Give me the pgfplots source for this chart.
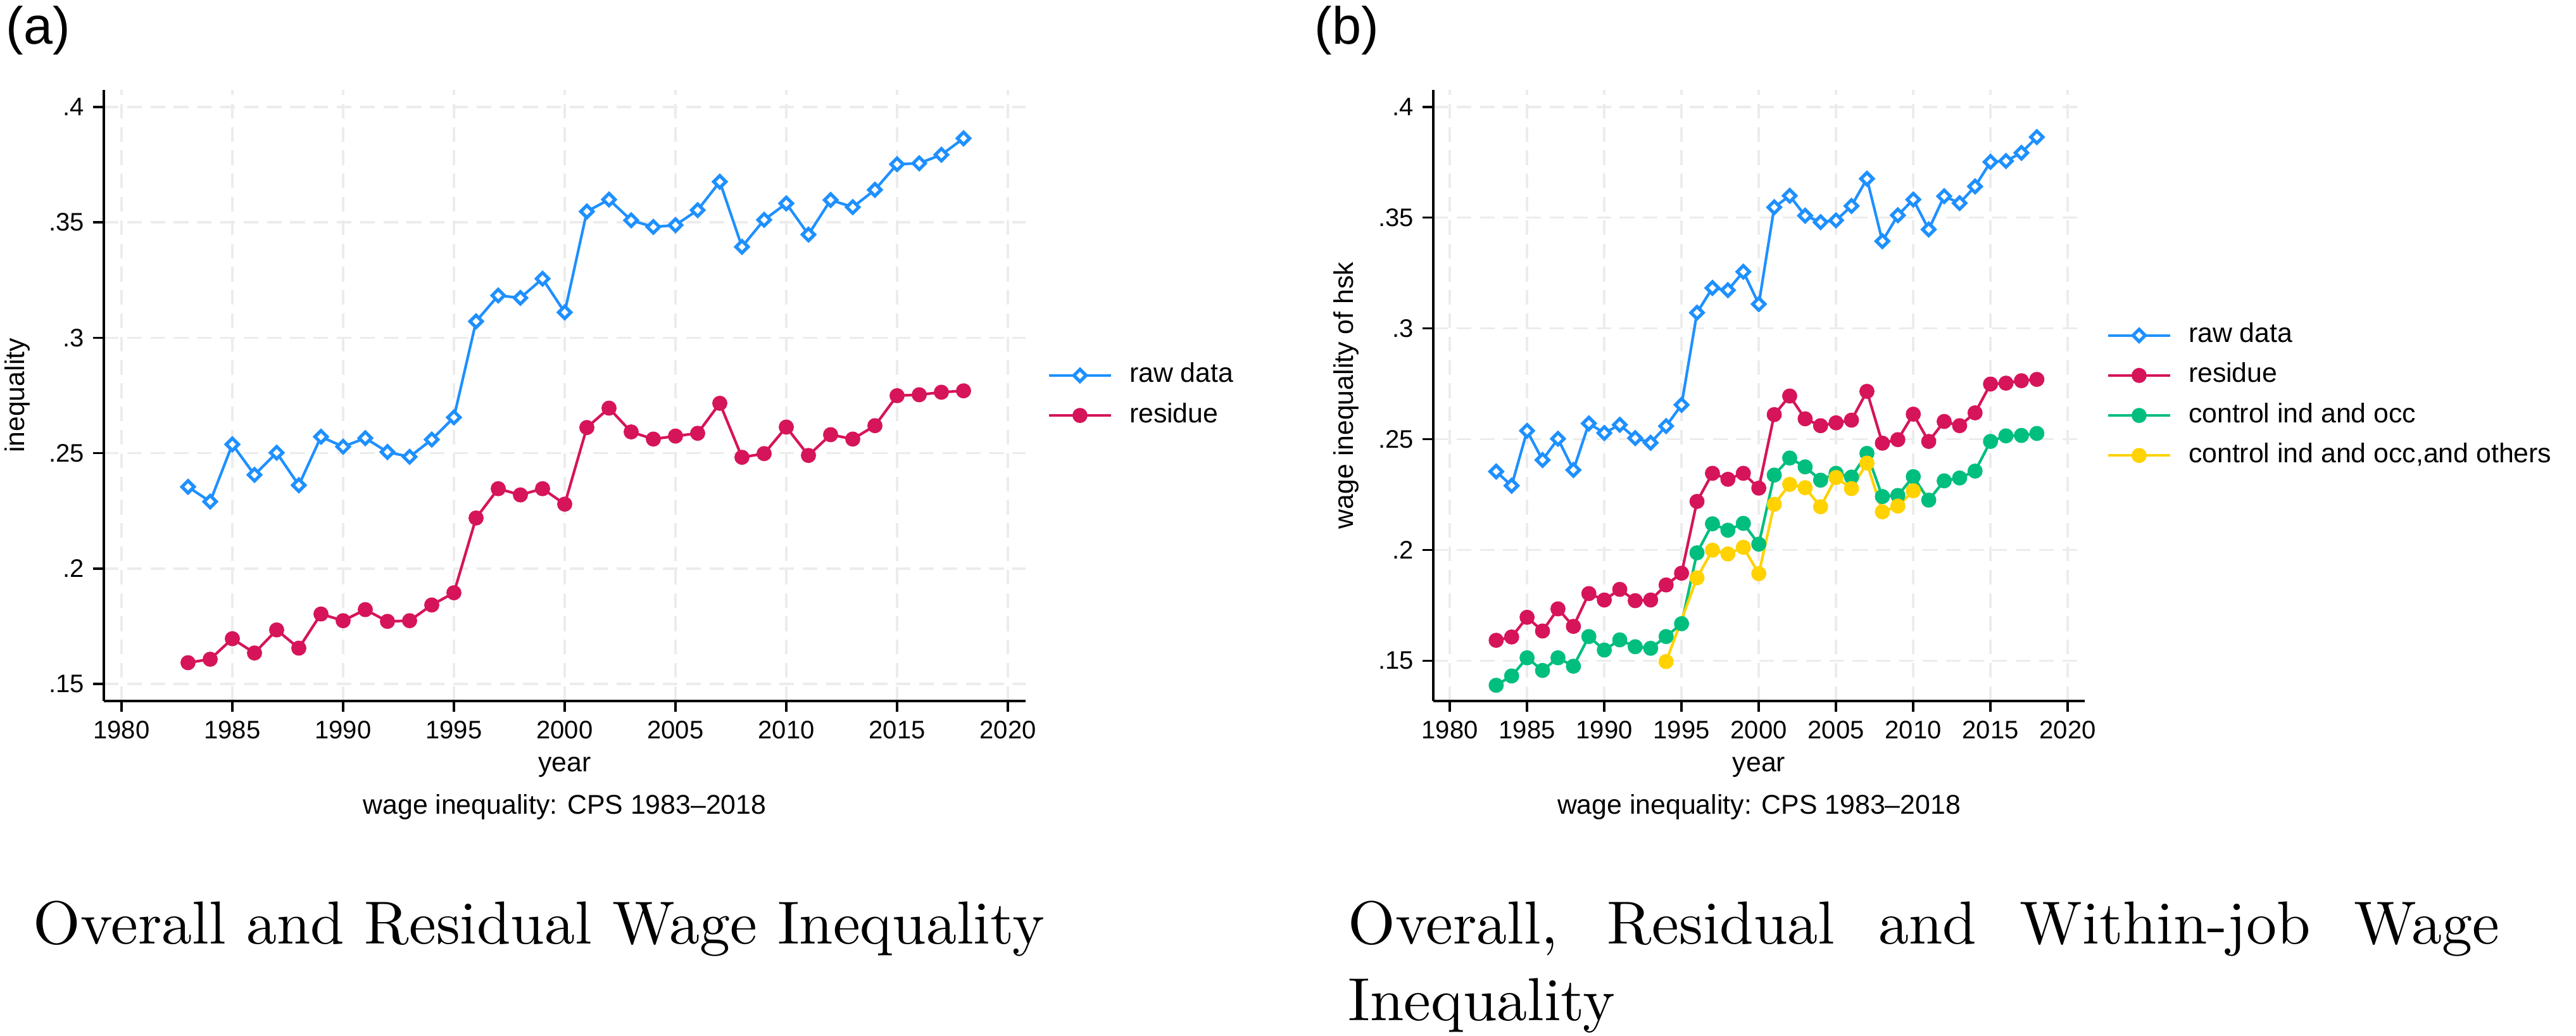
\documentclass[border=0pt]{standalone}
\usepackage{pgfplots}
\pgfplotsset{compat=1.18}
\usepackage{pgfplotstable}
\usepackage{fontspec}
\usepackage{graphicx}
\newfontfamily\stata{Liberation Sans}
\definecolor{cblue}{RGB}{30,144,255}
\definecolor{cred}{RGB}{214,20,90}
\definecolor{cgreen}{RGB}{0,190,125}
\definecolor{cyellow}{RGB}{255,210,0}
\definecolor{cgrid}{RGB}{236,236,236}

\pgfplotstableread{
year raw residue
1983 0.2354 0.1592
1984 0.2290 0.1607
1985 0.2538 0.1696
1986 0.2406 0.1634
1987 0.2502 0.1734
1988 0.2361 0.1655
1989 0.2571 0.1803
1990 0.2528 0.1774
1991 0.2565 0.1822
1992 0.2505 0.1771
1993 0.2484 0.1774
1994 0.2559 0.1842
1995 0.2655 0.1895
1996 0.3071 0.2219
1997 0.3183 0.2346
1998 0.3173 0.2319
1999 0.3256 0.2346
2000 0.3110 0.2279
2001 0.3547 0.2611
2002 0.3599 0.2695
2003 0.3509 0.2592
2004 0.3480 0.2561
2005 0.3488 0.2574
2006 0.3553 0.2586
2007 0.3676 0.2716
2008 0.3394 0.2482
2009 0.3511 0.2498
2010 0.3582 0.2613
2011 0.3447 0.2490
2012 0.3597 0.2580
2013 0.3566 0.2561
2014 0.3641 0.2619
2015 0.3752 0.2749
2016 0.3756 0.2753
2017 0.3793 0.2764
2018 0.3864 0.2770
}\mainTable

\pgfplotstableread{
year ctrl
1983 0.1389
1984 0.1431
1985 0.1513
1986 0.1456
1987 0.1513
1988 0.1475
1989 0.1609
1990 0.1548
1991 0.1594
1992 0.1563
1993 0.1556
1994 0.1609
1995 0.1667
1996 0.1987
1997 0.2118
1998 0.2089
1999 0.2120
2000 0.2026
2001 0.2338
2002 0.2415
2003 0.2375
2004 0.2315
2005 0.2346
2006 0.2329
2007 0.2436
2008 0.2241
2009 0.2246
2010 0.2331
2011 0.2225
2012 0.2312
2013 0.2325
2014 0.2356
2015 0.2490
2016 0.2515
2017 0.2517
2018 0.2526
}\ctrlTable

\pgfplotstableread{
year others
1994 0.1496
1996 0.1874
1997 0.1999
1998 0.1982
1999 0.2012
2000 0.1893
2001 0.2206
2002 0.2296
2003 0.2281
2004 0.2195
2005 0.2327
2006 0.2277
2007 0.2392
2008 0.2172
2009 0.2198
2010 0.2267
}\othersTable

\pgfplotsset{
  stataaxis/.style={
    scale only axis,
    axis x line*=bottom, axis y line*=left,
    axis line style={line width=0.85pt,-},
    tick style={line width=0.85pt, black},
    major tick length=4.25pt,
    tick align=outside,
    xtick={1980,1985,1990,1995,2000,2005,2010,2015,2020},
    xticklabels={1980,1985,1990,1995,2000,2005,2010,2015,2020},
    ytick={0.15,0.2,0.25,0.3,0.35,0.4},
    yticklabels={.15,.2,.25,.3,.35,.4},
    tick label style={font=\stata\fontsize{10}{12}\selectfont},
    grid=major,
    major grid style={cgrid, line width=0.85pt, dash pattern=on 5.8pt off 3.4pt},
    label style={font=\stata\fontsize{10.7}{12.8}\selectfont},
    xlabel style={at={(axis description cs:0.5,0)}, anchor=base, yshift=-28pt},
    clip=false,
    legend style={at={(1,0.5)}, anchor=west, xshift=8.5pt, draw=none, fill=none,
      inner sep=0pt, row sep=5.9pt, column sep=6.75pt,
      font=\stata\fontsize{10.7}{12.8}\selectfont,
      nodes={inner sep=0pt, text height=7.7pt, text depth=2.2pt}},
    legend cell align=left,
    legend image code/.code={\draw[mark repeat=2,mark phase=2] plot coordinates {(0pt,0pt) (12.25pt,0pt) (24.5pt,0pt)};},
  },
  rawstyle/.style={cblue, line width=1.05pt, mark=square*, mark size=1.7pt,
    mark options={rotate=45, fill=white, draw=cblue, line width=1.3pt, solid}},
  dotstyle/.style={#1, line width=1.05pt, mark=*, mark size=2.45pt,
    mark options={fill=#1, draw=#1, solid}},
}

\begin{document}
\begin{tikzpicture}
\useasboundingbox (0,0) rectangle (1017.25pt,409pt);

% ---------- panel (a) ----------
\begin{axis}[stataaxis, at={(41pt,132.25pt)}, anchor=south west,
  width=364pt, height=241.25pt,
  xmin=1979.2, xmax=2020.8, ymin=0.1426, ymax=0.4074,
  xlabel={year}, ylabel={inequality},
  ylabel style={at={(axis description cs:-0.0935,0.5)}, anchor=center}]
\addplot[rawstyle] table[x=year,y=raw]{\mainTable};
\addlegendentry{raw data}
\addplot[dotstyle=cred] table[x=year,y=residue]{\mainTable};
\addlegendentry{residue}
\node[anchor=base, inner sep=0pt, font=\stata\fontsize{10.7}{12.8}\selectfont, yshift=-44.75pt]
  at (axis description cs:0.5,0) {wage inequality: CPS 1983–2018};
\end{axis}

% ---------- panel (b) ----------
\begin{axis}[stataaxis, at={(566pt,132.25pt)}, anchor=south west,
  width=257.25pt, height=241.25pt,
  xmin=1978.93, xmax=2021.1, ymin=0.1318, ymax=0.4077,
  xlabel={year}, ylabel={wage inequality of hsk},
  ylabel style={at={(axis description cs:-0.1341,0.5)}, anchor=center}]
\addplot[rawstyle] table[x=year,y=raw]{\mainTable};
\addlegendentry{raw data}
\addplot[dotstyle=cred] table[x=year,y=residue]{\mainTable};
\addlegendentry{residue}
\addplot[dotstyle=cgreen] table[x=year,y=ctrl]{\ctrlTable};
\addlegendentry{control ind and occ}
\addplot[dotstyle=cyellow] table[x=year,y=others]{\othersTable};
\addlegendentry{control ind and occ,and others}
\node[anchor=base, inner sep=0pt, font=\stata\fontsize{10.7}{12.8}\selectfont, yshift=-44.75pt]
  at (axis description cs:0.5,0) {wage inequality: CPS 1983–2018};
\end{axis}

% ---------- panel tags ----------
\node[anchor=base west, inner sep=0pt, font=\stata\fontsize{20.7}{24}\selectfont] at (2.25pt,391.5pt) {(a)};
\node[anchor=base west, inner sep=0pt, font=\stata\fontsize{20.7}{24}\selectfont] at (519pt,391.5pt) {(b)};

% ---------- captions ----------
\node[anchor=base west, inner sep=0pt] at (13pt,36.25pt)
  {\scalebox{2.4}{\fontsize{10}{12.6}\selectfont Overall and Residual Wage Inequality}};
\node[anchor=base west, inner sep=0pt] at (532.25pt,36.25pt)
  {\scalebox{2.4}{\parbox[t]{189.4pt}{\fontsize{10}{12.6}\selectfont\tolerance=10000 \hyphenpenalty=10000 \exhyphenpenalty=10000 Overall, Residual and Within-job Wage\linebreak Inequality}}};
\end{tikzpicture}
\end{document}
